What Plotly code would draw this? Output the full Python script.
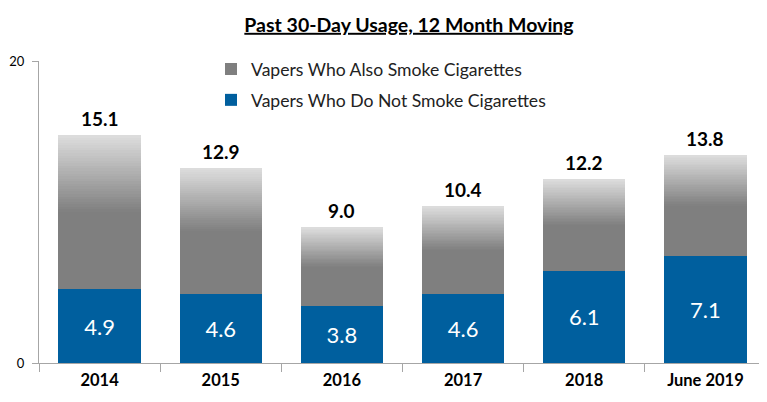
import plotly.graph_objects as go

categories = ["2014", "2015", "2016", "2017", "2018", "June 2019"]
totals = [15.1, 12.9, 9.0, 10.4, 12.2, 13.8]
non_smokers = [4.9, 4.6, 3.8, 4.6, 6.1, 7.1]
dual_users = [round(t - n, 1) for t, n in zip(totals, non_smokers)]

BLUE = "#005f9e"
DARK = (127, 127, 127)
LIGHT = (222, 222, 222)
N = 30
FONT = "Lato"

fig = go.Figure()
fig.add_trace(go.Bar(
    x=categories, y=non_smokers, name="Vapers Who Do Not Smoke Cigarettes",
    marker=dict(color=BLUE, line=dict(width=0)),
    text=[f"{v:.1f}" for v in non_smokers], textposition="inside",
    insidetextanchor="middle", textangle=0,
    textfont=dict(family=FONT, size=22, color="white"),
    legendrank=2, legendgroup="b", hoverinfo="skip",
))
# solid lower half of the grey segment
fig.add_trace(go.Bar(
    x=categories, y=[g / 2 for g in dual_users],
    name="Vapers Who Also Smoke Cigarettes",
    marker=dict(color="rgb(127,127,127)", line=dict(width=0)),
    legendrank=1, legendgroup="a", hoverinfo="skip",
))
# gradient upper half
for k in range(N):
    f = (k + 0.5) / N
    c = tuple(round(DARK[j] + (LIGHT[j] - DARK[j]) * f) for j in range(3))
    fig.add_trace(go.Bar(
        x=categories, y=[g / 2 / N for g in dual_users],
        marker=dict(color=f"rgb{c}", line=dict(width=0)),
        showlegend=False, legendgroup="a", hoverinfo="skip",
    ))

for i, t in enumerate(totals):
    fig.add_annotation(x=i, y=t, text=f"<b>{t:.1f}</b>", showarrow=False,
                       yanchor="bottom", yshift=3,
                       font=dict(family=FONT, size=19, color="black"))

W, H = 759, 394
fig.update_layout(
    width=W, height=H, barmode="stack", bargap=0.32,
    plot_bgcolor="white", paper_bgcolor="white",
    margin=dict(l=31, r=1, t=53, b=39),
    title=dict(text="<u><b>Past 30-Day Usage, 12 Month Moving</b></u>",
               x=401 / W, xanchor="center", y=1 - 17 / H, yanchor="middle",
               font=dict(family=FONT, size=19.5, color="black")),
    legend=dict(x=0.2366, y=1.033, xanchor="left", yanchor="top",
                traceorder="grouped",
                font=dict(family=FONT, size=17.6, color="#222222"),
                bgcolor="rgba(0,0,0,0)", tracegroupgap=5, itemwidth=30),
    showlegend=True,
)
fig.update_xaxes(type="category", showline=True, linecolor="#a6a6a6", linewidth=1,
                 ticks="outside", tickson="boundaries", ticklen=8, tickcolor="#a6a6a6",
                 tickfont=dict(family=FONT, size=16.5, color="black"),
                 ticklabelstandoff=2,
                 tickprefix="<b>", ticksuffix="</b>", automargin=False)
fig.update_yaxes(range=[0, 20], tickvals=[0, 20], showgrid=False, zeroline=False,
                 showline=True, linecolor="#a6a6a6", linewidth=1,
                 ticks="outside", ticklen=6, tickcolor="#a6a6a6",
                 tickfont=dict(family=FONT, size=13, color="black"),
                 ticklabelstandoff=5, automargin=False,
                 tickprefix="<b>", ticksuffix="</b>")

fig.write_html("out.html")
